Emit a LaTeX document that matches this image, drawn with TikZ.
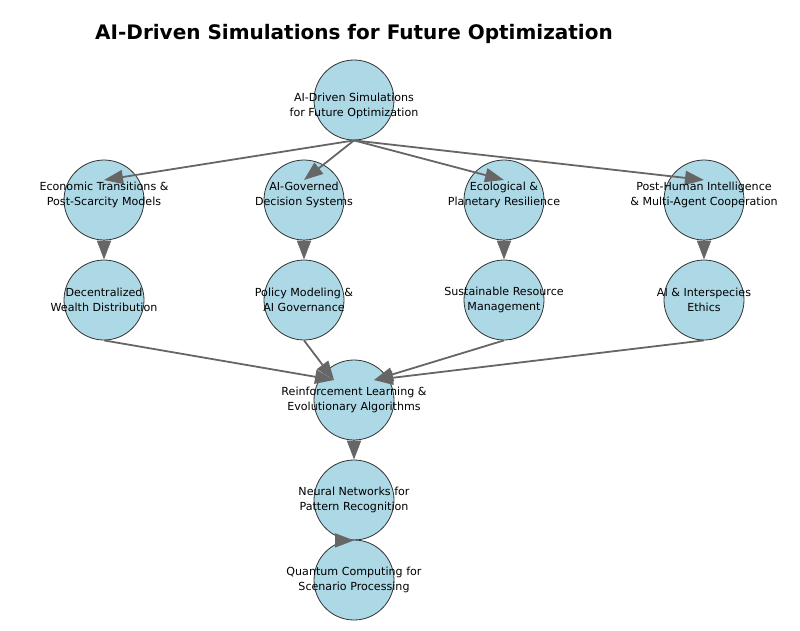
\documentclass[tikz,border=0pt]{standalone}
\usepackage{fontspec}
\setmainfont{DejaVu Sans}
\usetikzlibrary{arrows.meta,calc}
\definecolor{nodefill}{HTML}{ADD8E6}
\definecolor{nodeedge}{HTML}{333333}
\definecolor{edgecol}{HTML}{666666}
\begin{document}
\begin{tikzpicture}[x=1pt,y=-1pt,
  circ/.style={circle,draw=nodeedge,fill=nodefill,line width=0.8pt,minimum size=80pt,inner sep=0pt},
  lbl/.style={align=center,font=\fontsize{11.1}{15}\selectfont,text=black,inner sep=0pt},
  arr/.style={draw=edgecol,line width=1.8pt,-{Triangle[length=19pt,width=14pt]},fill=edgecol}]
\useasboundingbox (0,0) rectangle (800,630);
\node[font=\bfseries\fontsize{20}{22}\selectfont] (title) at (354,34) {AI-Driven Simulations for Future Optimization};
% circles
\node[circ] (top) at (354,100) {};
\node[circ] (eco) at (104,200) {};
\node[circ] (gov) at (304,200) {};
\node[circ] (ecl) at (504,200) {};
\node[circ] (post) at (704,200) {};
\node[circ] (dec) at (104,300) {};
\node[circ] (pol) at (304,300) {};
\node[circ] (sus) at (504,300) {};
\node[circ] (eth) at (704,300) {};
\node[circ] (rl) at (354,400) {};
\node[circ] (nn) at (354,500) {};
\node[circ] (qc) at (354,580) {};
% edges
\foreach \n in {eco,gov,ecl,post}
  \draw[arr] (top.south) -- ([yshift=20pt]\n.center);
\draw[arr] (eco.south) -- (dec.north);
\draw[arr] (gov.south) -- (pol.north);
\draw[arr] (ecl.south) -- (sus.north);
\draw[arr] (post.south) -- (eth.north);
\draw[arr] (dec.south) -- ([xshift=-20pt,yshift=20pt]rl.center);
\draw[arr] (pol.south) -- ([xshift=-20pt,yshift=20pt]rl.center);
\draw[arr] (sus.south) -- ([xshift=20pt,yshift=20pt]rl.center);
\draw[arr] (eth.south) -- ([xshift=20pt,yshift=20pt]rl.center);
\draw[arr] (rl.south) -- (nn.north);
\draw[arr] ([xshift=-19pt]nn.south) -- (nn.south);
% labels
\node[lbl] (l-top) at (354,106) {AI-Driven Simulations\\for Future Optimization};
\node[lbl] (l-eco) at (104,195) {Economic Transitions \&\\Post-Scarcity Models};
\node[lbl] (l-gov) at (304,195) {AI-Governed\\Decision Systems};
\node[lbl] (l-ecl) at (504,195) {Ecological \&\\Planetary Resilience};
\node[lbl] (l-post) at (704,195) {Post-Human Intelligence\\\& Multi-Agent Cooperation};
\node[lbl] (l-dec) at (104,300) {Decentralized\\Wealth Distribution};
\node[lbl] (l-pol) at (304,300) {Policy Modeling \&\\AI Governance};
\node[lbl] (l-sus) at (504,300) {Sustainable Resource\\Management};
\node[lbl] (l-eth) at (704,300) {AI \& Interspecies\\Ethics};
\node[lbl] (l-rl) at (354,400) {Reinforcement Learning \&\\Evolutionary Algorithms};
\node[lbl] (l-nn) at (354,500) {Neural Networks for\\Pattern Recognition};
\node[lbl] (l-qc) at (354,580) {Quantum Computing for\\Scenario Processing};
\end{tikzpicture}
\end{document}
